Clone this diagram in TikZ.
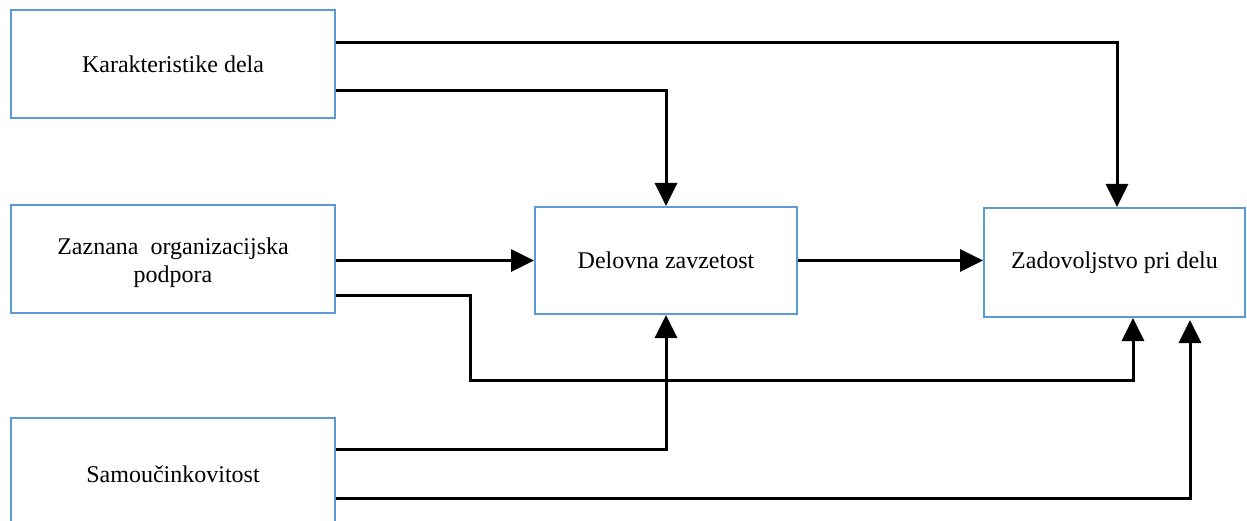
\documentclass[tikz,border=0pt]{standalone}
\usepackage{fontspec}
\setmainfont{Liberation Serif}
\usetikzlibrary{arrows.meta,calc}
\definecolor{boxblue}{RGB}{91,155,213}
\tikzset{
  box/.style={draw=boxblue, line width=2pt, fill=white, align=center,
    inner sep=0pt, font=\fontsize{24}{28}\selectfont},
  arr/.style={line width=3pt, -{Triangle[length=23pt,width=22pt]}}
}
\begin{document}
\begin{tikzpicture}[x=1pt,y=-1pt]
  \clip (0,0) rectangle (1247,521);
  \fill[white] (0,0) rectangle (1247,521);

  % predictor boxes
  \node[box, minimum width=324pt, minimum height=108pt] (kd) at (173,64) {Karakteristike dela};
  \node[box, minimum width=324pt, minimum height=108pt] (zp) at (173,259) {};
  \node[align=center, inner sep=0pt, font=\fontsize{24}{28}\selectfont] (zpt) at (173,263) {Zaznana\ \ organizacijska\\podpora};
  \node[box, minimum width=324pt, minimum height=112pt] (sm) at (173,474) {Samoučinkovitost};

  % mediator and outcome
  \node[box, minimum width=262pt, minimum height=107pt] (dv) at (666,260.5) {Delovna zavzetost};
  \node[box, minimum width=261pt, minimum height=109pt] (dz) at (1114.5,262.5) {Zadovoljstvo pri delu};

  \coordinate (bend) at (470,380);

  % connectors
  \draw[arr] ([yshift=21pt]kd.east) -| ([xshift=2.5pt]dz.north);
  \draw[arr] ([yshift=-27pt]kd.east) -| (dv.north);
  \draw[arr] (zp.east |- dv.west) -- (dv.west);
  \draw[arr] ([yshift=-36pt]zp.east) -| (bend) -| ([xshift=18.5pt]dz.south);
  \draw[arr] ([yshift=25pt]sm.east) -| (dv.south);
  \draw[arr] ([yshift=-24pt]sm.east) -| ([xshift=75.5pt,yshift=-2pt]dz.south);
  \draw[arr] (dv.east) -- (dv.east -| dz.west);
\end{tikzpicture}
\end{document}
